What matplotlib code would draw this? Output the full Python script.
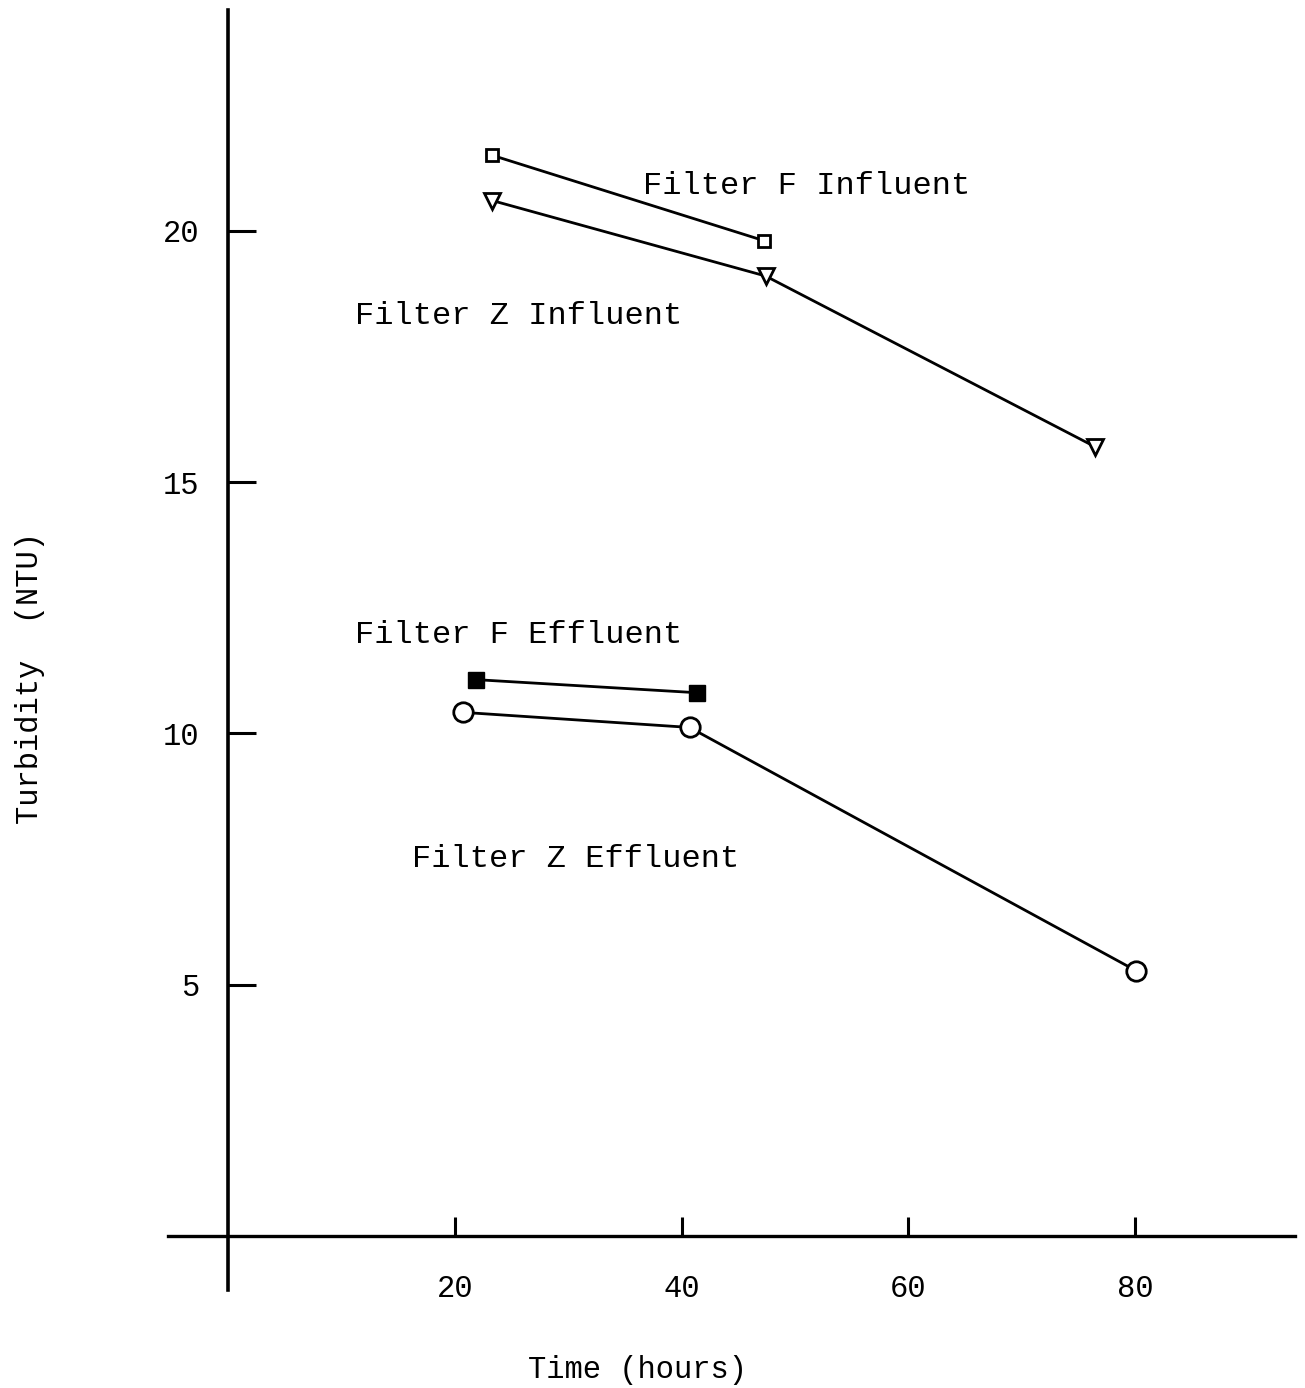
import matplotlib
matplotlib.use("Agg")
import matplotlib.pyplot as plt

plt.rcParams['font.family'] = ['Liberation Mono', 'DejaVu Sans Mono']

# Data (time in hours, turbidity in NTU)
f_infl_t = [23.3, 47.3]
f_infl_v = [21.5, 19.8]
z_infl_t = [23.3, 47.4, 76.5]
z_infl_v = [20.6, 19.1, 15.7]
f_eff_t = [21.9, 41.4]
f_eff_v = [11.07, 10.81]
z_eff_t = [20.7, 40.7, 80.1]
z_eff_v = [10.42, 10.12, 5.28]

xticks = [20, 40, 60, 80]
yticks = [5, 10, 15, 20]

fig = plt.figure(figsize=(13.05, 13.88), dpi=100)
ax = fig.add_axes([0, 0, 1, 1])
ax.set_xlim(-20.14, 95.0)
ax.set_ylim(-3.02, 24.59)
ax.patch.set_alpha(0)

for s in ['top', 'right']:
    ax.spines[s].set_visible(False)
ax.spines['left'].set_position(('data', 0))
ax.spines['bottom'].set_position(('data', 0))
ax.spines['left'].set_bounds(-1.07, 24.4)
ax.spines['bottom'].set_bounds(-5.3, 94.1)
ax.spines['left'].set_linewidth(2.6)
ax.spines['bottom'].set_linewidth(2.4)

ax.set_xticks(xticks)
ax.set_yticks(yticks)
ax.set_xticklabels([str(t) for t in xticks])
ax.set_yticklabels([str(t) for t in yticks])
ax.tick_params(axis='x', direction='in', length=14, width=2.2, pad=27, labelsize=22)
ax.tick_params(axis='y', direction='in', length=20, width=2.2, pad=21, labelsize=22)

lw = 2.0
ax.plot(f_infl_t, f_infl_v, color='black', lw=lw, marker='s', ms=8,
        mfc='white', mec='black', mew=2)
ax.plot(z_infl_t, z_infl_v, color='black', lw=lw, marker='v', ms=12,
        mfc='white', mec='black', mew=2)
ax.plot(f_eff_t, f_eff_v, color='black', lw=lw, marker='s', ms=11,
        mfc='black', mec='black')
ax.plot(z_eff_t, z_eff_v, color='black', lw=lw, marker='o', ms=14,
        mfc='white', mec='black', mew=2)

fs = 23
ax.text(36.6, 20.9, 'Filter F Influent', fontsize=fs, va='center', ha='left')
ax.text(11.2, 18.3, 'Filter Z Influent', fontsize=fs, va='center', ha='left')
ax.text(11.2, 11.96, 'Filter F Effluent', fontsize=fs, va='center', ha='left')
ax.text(16.2, 7.5, 'Filter Z Effluent', fontsize=fs, va='center', ha='left')

fig.text(30 / 1305, 1 - 678 / 1388, 'Turbidity  (NTU)', rotation=90,
         fontsize=22, ha='center', va='center')
fig.text(638 / 1305, 1 - 1370 / 1388, 'Time (hours)', fontsize=22,
         ha='center', va='center')

fig.savefig('out.png', dpi=100)
